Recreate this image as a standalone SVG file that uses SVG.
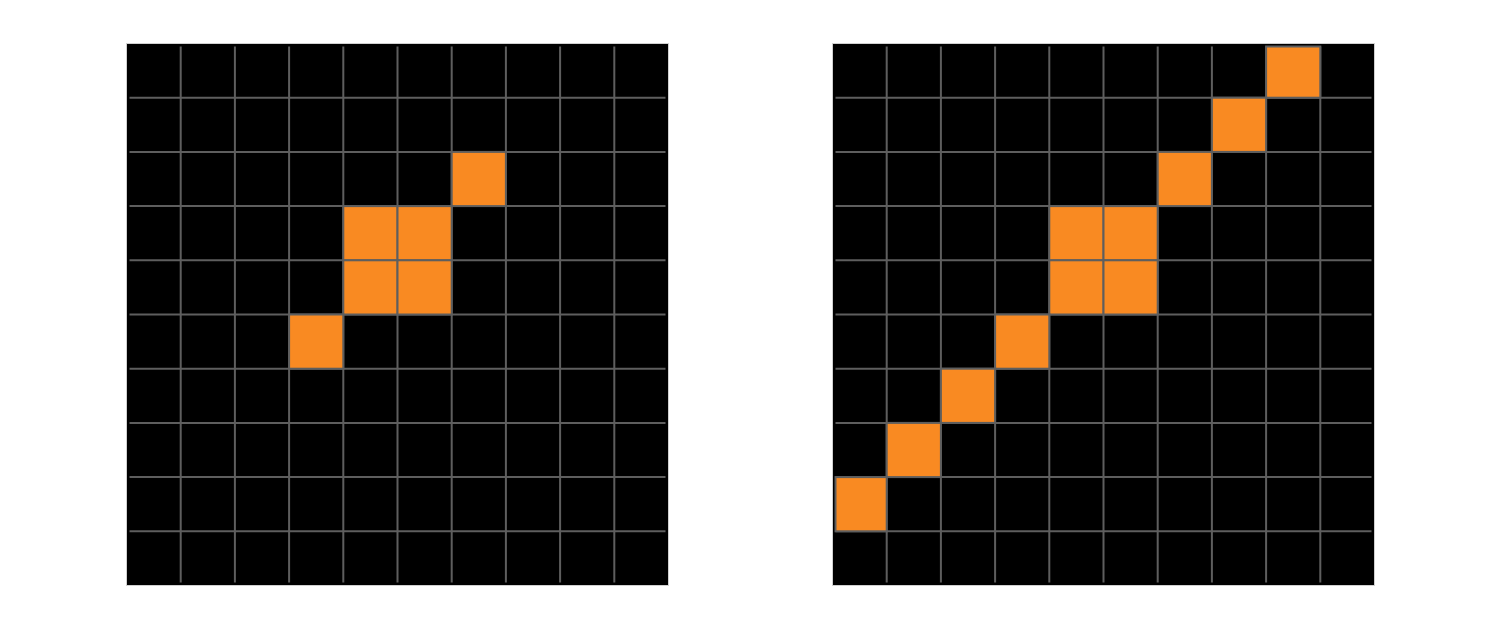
<svg xmlns="http://www.w3.org/2000/svg" width="1500" height="629" viewBox="0 0 1500 629">
<style>
.bg{fill:#000;stroke:#d0d0d0;stroke-width:1}
.on{fill:#F98A22;stroke:#5e5e5e;stroke-width:2}
.g{stroke:#5e5e5e;stroke-width:2;fill:none}
</style>
<defs>
<g id="grid">
<path class="g" d="M54.2 3V539M108.4 3V539M162.6 3V539M216.8 3V539M271 3V539M325.2 3V539M379.4 3V539M433.6 3V539M487.8 3V539M3 54.2H539M3 108.4H539M3 162.6H539M3 216.8H539M3 271H539M3 325.2H539M3 379.4H539M3 433.6H539M3 487.8H539"/>
</g>
</defs>
<g id="left" transform="translate(126.5,43.5)">
<rect class="bg" x="0" y="0" width="542" height="542"/>
<use href="#grid"/>
<rect class="on" x="325.2" y="108.4" width="54.2" height="54.2"/>
<rect class="on" x="216.8" y="162.6" width="54.2" height="54.2"/>
<rect class="on" x="271" y="162.6" width="54.2" height="54.2"/>
<rect class="on" x="216.8" y="216.8" width="54.2" height="54.2"/>
<rect class="on" x="271" y="216.8" width="54.2" height="54.2"/>
<rect class="on" x="162.6" y="271" width="54.2" height="54.2"/>
</g>
<g id="right" transform="translate(832.5,43.5)">
<rect class="bg" x="0" y="0" width="542" height="542"/>
<use href="#grid"/>
<rect class="on" x="433.6" y="3" width="54.2" height="51.2"/>
<rect class="on" x="379.4" y="54.2" width="54.2" height="54.2"/>
<rect class="on" x="325.2" y="108.4" width="54.2" height="54.2"/>
<rect class="on" x="216.8" y="162.6" width="54.2" height="54.2"/>
<rect class="on" x="271" y="162.6" width="54.2" height="54.2"/>
<rect class="on" x="216.8" y="216.8" width="54.2" height="54.2"/>
<rect class="on" x="271" y="216.8" width="54.2" height="54.2"/>
<rect class="on" x="162.6" y="271" width="54.2" height="54.2"/>
<rect class="on" x="108.4" y="325.2" width="54.2" height="54.2"/>
<rect class="on" x="54.2" y="379.4" width="54.2" height="54.2"/>
<rect class="on" x="3" y="433.6" width="51.2" height="54.2"/>
</g>
</svg>
